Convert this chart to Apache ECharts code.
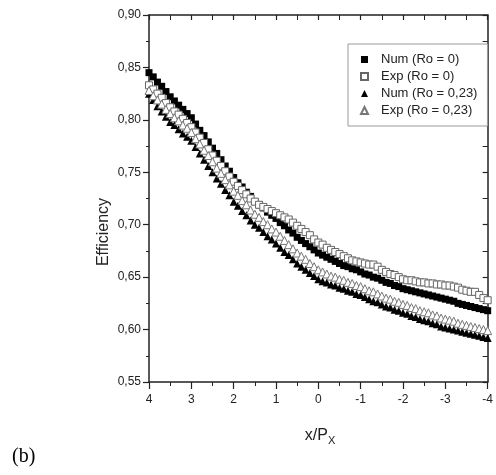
<!DOCTYPE html>
<html>
<head>
<meta charset="utf-8">
<script src="https://cdn.jsdelivr.net/npm/echarts@6/dist/echarts.min.js"></script>
<style>
  html, body { margin: 0; padding: 0; background: #fff; }
  #main { width: 496px; height: 475px; }
</style>
</head>
<body>
<div id="main"></div>
<script>
// x/Px positions (axis runs 4 -> -4)
var xs = [4.0, 3.9, 3.8, 3.7, 3.6, 3.5, 3.4, 3.3, 3.2, 3.1,
  3.0, 2.9, 2.8, 2.7, 2.6, 2.5, 2.4, 2.3, 2.2, 2.1,
  2.0, 1.9, 1.8, 1.7, 1.6, 1.5, 1.4, 1.3, 1.2, 1.1,
  1.0, 0.9, 0.8, 0.7, 0.6, 0.5, 0.4, 0.3, 0.2, 0.1,
  0.0, -0.1, -0.2, -0.3, -0.4, -0.5, -0.6, -0.7, -0.8, -0.9,
  -1.0, -1.1, -1.2, -1.3, -1.4, -1.5, -1.6, -1.7, -1.8, -1.9,
  -2.0, -2.1, -2.2, -2.3, -2.4, -2.5, -2.6, -2.7, -2.8, -2.9,
  -3.0, -3.1, -3.2, -3.3, -3.4, -3.5, -3.6, -3.7, -3.8, -3.9, -4.0];

var numRo0 = [0.845, 0.841, 0.836, 0.832, 0.827, 0.822, 0.818, 0.814, 0.810, 0.806,
  0.802, 0.796, 0.790, 0.785, 0.779, 0.773, 0.768, 0.762, 0.756, 0.751,
  0.745, 0.740, 0.736, 0.731, 0.727, 0.722, 0.719, 0.716, 0.712, 0.709,
  0.706, 0.702, 0.699, 0.695, 0.692, 0.688, 0.685, 0.682, 0.679, 0.676,
  0.673, 0.671, 0.669, 0.667, 0.665, 0.663, 0.661, 0.660, 0.658, 0.657,
  0.655, 0.653, 0.652, 0.650, 0.649, 0.647, 0.645, 0.644, 0.642, 0.641,
  0.639, 0.638, 0.637, 0.636, 0.635, 0.634, 0.633, 0.632, 0.631, 0.630,
  0.629, 0.628, 0.627, 0.625, 0.624, 0.623, 0.622, 0.621, 0.620, 0.619, 0.618];

var expRo0 = [0.833, 0.829, 0.825, 0.821, 0.816, 0.812, 0.808, 0.805, 0.801, 0.797,
  0.793, 0.788, 0.783, 0.778, 0.772, 0.766, 0.761, 0.756, 0.751, 0.746,
  0.741, 0.737, 0.733, 0.729, 0.725, 0.722, 0.719, 0.717, 0.715, 0.713,
  0.711, 0.709, 0.707, 0.705, 0.702, 0.699, 0.696, 0.693, 0.690, 0.686,
  0.683, 0.681, 0.678, 0.676, 0.674, 0.672, 0.670, 0.668, 0.666, 0.665,
  0.664, 0.663, 0.662, 0.662, 0.660, 0.657, 0.655, 0.653, 0.652, 0.650,
  0.648, 0.647, 0.647, 0.646, 0.645, 0.645, 0.644, 0.644, 0.643, 0.643,
  0.642, 0.642, 0.641, 0.640, 0.638, 0.637, 0.636, 0.636, 0.633, 0.630, 0.628];

var numRo23 = [0.825, 0.819, 0.813, 0.808, 0.803, 0.798, 0.795, 0.791, 0.787, 0.784,
  0.780, 0.774, 0.768, 0.762, 0.756, 0.750, 0.744, 0.739, 0.733, 0.728,
  0.722, 0.718, 0.713, 0.709, 0.704, 0.700, 0.697, 0.693, 0.689, 0.686,
  0.682, 0.678, 0.674, 0.671, 0.667, 0.663, 0.660, 0.657, 0.654, 0.651,
  0.648, 0.646, 0.645, 0.643, 0.642, 0.640, 0.639, 0.637, 0.636, 0.634,
  0.633, 0.631, 0.629, 0.627, 0.626, 0.624, 0.622, 0.621, 0.619, 0.618,
  0.616, 0.615, 0.613, 0.612, 0.610, 0.609, 0.608, 0.606, 0.605, 0.603,
  0.602, 0.601, 0.600, 0.599, 0.598, 0.597, 0.596, 0.595, 0.594, 0.593, 0.592];

var expRo23 = [0.828, 0.823, 0.819, 0.815, 0.810, 0.806, 0.802, 0.799, 0.795, 0.792,
  0.788, 0.782, 0.777, 0.771, 0.766, 0.760, 0.754, 0.749, 0.743, 0.738,
  0.732, 0.728, 0.723, 0.719, 0.714, 0.710, 0.707, 0.703, 0.700, 0.696,
  0.693, 0.689, 0.685, 0.681, 0.677, 0.673, 0.670, 0.667, 0.663, 0.660,
  0.657, 0.655, 0.653, 0.651, 0.650, 0.648, 0.647, 0.645, 0.644, 0.642,
  0.641, 0.639, 0.637, 0.636, 0.634, 0.632, 0.630, 0.629, 0.627, 0.626,
  0.624, 0.623, 0.621, 0.620, 0.618, 0.617, 0.616, 0.614, 0.613, 0.611,
  0.610, 0.609, 0.608, 0.606, 0.605, 0.604, 0.603, 0.602, 0.601, 0.600, 0.599];

var seriesNames = ['Num (Ro = 0)', 'Exp (Ro = 0)', 'Num (Ro = 0,23)', 'Exp (Ro = 0,23)'];

var FONT = '"Liberation Sans", Arial, sans-serif';
var AXIS_COLOR = '#222';

function pairs(ys) {
  return xs.map(function (x, i) { return [x, ys[i]]; });
}

var myChart = echarts.init(document.getElementById('main'), null, { renderer: 'canvas' });

var baseX = {
  type: 'value', min: -4, max: 4, interval: 1, inverse: true,
  splitLine: { show: false }, minorSplitLine: { show: false },
  axisLine: { show: true, onZero: false, lineStyle: { color: AXIS_COLOR, width: 1.5 } }
};
var baseY = {
  type: 'value', min: 0.55, max: 0.90, interval: 0.05, scale: true,
  splitLine: { show: false }, minorSplitLine: { show: false },
  axisLine: { show: true, onZero: false, lineStyle: { color: AXIS_COLOR, width: 1.5 } }
};

myChart.setOption({
  animation: false,
  backgroundColor: '#fff',
  grid: { left: 149, right: 4, top: 15, bottom: 93 },
  xAxis: [
    Object.assign({}, baseX, {
      position: 'bottom',
      axisTick: { show: true, inside: false, length: 7, lineStyle: { color: AXIS_COLOR, width: 1.2 } },
      minorTick: { show: true, splitNumber: 2, length: 4, lineStyle: { color: AXIS_COLOR, width: 1 } },
      axisLabel: { margin: 12, fontSize: 12, color: AXIS_COLOR, fontFamily: FONT }
    }),
    Object.assign({}, baseX, {
      position: 'top',
      axisTick: { show: true, inside: true, length: 5, lineStyle: { color: AXIS_COLOR, width: 1.2 } },
      minorTick: { show: true, splitNumber: 2, length: 5, lineStyle: { color: AXIS_COLOR, width: 1 } },
      axisLabel: { show: false }
    })
  ],
  yAxis: [
    Object.assign({}, baseY, {
      position: 'left',
      axisTick: { show: true, inside: false, length: 6, lineStyle: { color: AXIS_COLOR, width: 1.2 } },
      minorTick: { show: true, splitNumber: 2, length: 3, lineStyle: { color: AXIS_COLOR, width: 1 } },
      axisLabel: {
        margin: 8, fontSize: 12, color: AXIS_COLOR, fontFamily: FONT,
        formatter: function (v) { return v.toFixed(2).replace('.', ','); }
      }
    }),
    Object.assign({}, baseY, {
      position: 'right',
      axisTick: { show: true, inside: true, length: 5, lineStyle: { color: AXIS_COLOR, width: 1.2 } },
      minorTick: { show: true, splitNumber: 2, length: 5, lineStyle: { color: AXIS_COLOR, width: 1 } },
      axisLabel: { show: false }
    })
  ],
  legend: {
    orient: 'vertical', left: 348, top: 44,
    padding: [9, 10, 9, 12], itemGap: 4, itemWidth: 7, itemHeight: 7,
    borderColor: '#999', borderWidth: 1, backgroundColor: '#fff',
    textStyle: { fontSize: 13, color: AXIS_COLOR, fontFamily: FONT, padding: [0, 0, 0, 8] },
    data: seriesNames
  },
  series: [
    {
      name: seriesNames[0], type: 'scatter', symbol: 'rect', symbolSize: 7,
      itemStyle: { color: '#000', opacity: 1 }, data: pairs(numRo0)
    },
    {
      name: seriesNames[1], type: 'scatter', symbol: 'rect', symbolSize: 7,
      itemStyle: { color: '#fff', borderColor: '#666', borderWidth: 1, opacity: 1 }, data: pairs(expRo0)
    },
    {
      name: seriesNames[2], type: 'scatter', symbol: 'triangle', symbolSize: 8,
      itemStyle: { color: '#000', opacity: 1 }, data: pairs(numRo23)
    },
    {
      name: seriesNames[3], type: 'scatter', symbol: 'triangle', symbolSize: 8,
      itemStyle: { color: '#fff', borderColor: '#777', borderWidth: 1, opacity: 1 }, data: pairs(expRo23)
    }
  ],
  graphic: [
    {
      type: 'text', x: 104, y: 232, rotation: Math.PI / 2,
      style: { text: 'Efficiency', font: '16px ' + FONT, fill: AXIS_COLOR, align: 'center', verticalAlign: 'middle' }
    },
    {
      type: 'text', x: 320, y: 436,
      style: {
        text: '{m|x/P}{s|X}', align: 'center', verticalAlign: 'middle',
        rich: {
          m: { fontSize: 16, fontFamily: FONT, fill: AXIS_COLOR, color: AXIS_COLOR },
          s: { fontSize: 11, fontFamily: FONT, fill: AXIS_COLOR, color: AXIS_COLOR, padding: [10, 0, 0, 0] }
        }
      }
    },
    {
      type: 'text', x: 12, y: 457,
      style: { text: '(b)', font: '20px "Liberation Serif", "Times New Roman", serif', fill: '#000', verticalAlign: 'middle' }
    }
  ]
});
</script>
</body>
</html>
